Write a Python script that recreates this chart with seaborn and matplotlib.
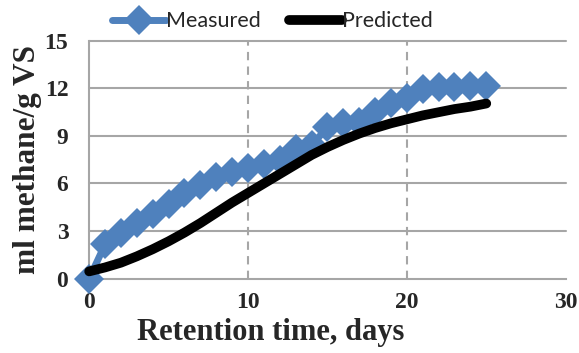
import matplotlib
matplotlib.use("Agg")
import matplotlib.pyplot as plt
import seaborn as sns
import pandas as pd

# Cumulative methane yield (ml methane / g VS) by retention day
days = list(range(0, 26))
measured = [0.0, 2.15, 2.85, 3.5, 4.1, 4.7, 5.4, 5.9, 6.4, 6.7, 7.0, 7.2, 7.5,
            8.15, 8.4, 9.55, 9.85, 9.9, 10.5, 11.1, 11.4, 11.95, 12.1, 12.1,
            12.15, 12.15]
predicted = [0.45, 0.7, 1.0, 1.4, 1.85, 2.35, 2.9, 3.5, 4.15, 4.8, 5.4, 6.0,
             6.6, 7.2, 7.8, 8.3, 8.75, 9.15, 9.5, 9.8, 10.05, 10.3, 10.5,
             10.7, 10.85, 11.05]

x_ticks = [0, 10, 20, 30]
y_ticks = [0, 3, 6, 9, 12, 15]

df = pd.DataFrame({"days": days, "Measured": measured, "Predicted": predicted})

sns.set_style("white")
fig = plt.figure(figsize=(5.79, 3.53), dpi=100)
ax = fig.add_axes([0.154, 0.211, 0.823, 0.673])

grid_col = "#A6A6A6"
for yv in y_ticks[1:]:
    ax.axhline(yv, color=grid_col, lw=1.5, zorder=0)
for xv in x_ticks[1:-1]:
    ax.axvline(xv, color=grid_col, lw=1.5, ls=(0, (4, 3)), zorder=0)

sns.lineplot(data=df, x="days", y="Measured", ax=ax, color="#4F81BD",
             lw=5, marker="D", markersize=15.5, markeredgewidth=0,
             label="Measured", zorder=3)
sns.lineplot(data=df, x="days", y="Predicted", ax=ax, color="black",
             lw=7, solid_capstyle="round", label="Predicted", zorder=4)

ax.set_xlim(0, 30)
ax.set_ylim(0, 15)
ax.set_xticks(x_ticks)
ax.set_yticks(y_ticks)

serif = {"family": "Liberation Serif", "weight": "bold"}
for lab in ax.get_xticklabels() + ax.get_yticklabels():
    lab.set_fontfamily("Liberation Serif")
    lab.set_fontweight("bold")
    lab.set_fontsize(17)
ax.tick_params(axis="both", length=0)
ax.tick_params(axis="y", pad=15)
ax.tick_params(axis="x", pad=10)

ax.set_xlabel("Retention time, days", fontdict=serif, fontsize=22)
ax.xaxis.set_label_coords(0.38, -0.168)
ax.set_ylabel("ml methane/g VS", fontdict=serif, fontsize=22.5)
ax.yaxis.set_label_coords(-0.10, 0.5)

for side in ["top", "right"]:
    ax.spines[side].set_visible(False)
for side in ["left", "bottom"]:
    ax.spines[side].set_color(grid_col)
    ax.spines[side].set_linewidth(1.5)

leg = ax.legend(loc="lower center", bbox_to_anchor=(0.385, 0.995), ncol=2,
                frameon=False, prop={"family": "Lato", "size": 15.5},
                handlelength=2.5, handletextpad=0.0, columnspacing=1.3,
                borderaxespad=0.1)
for line in ax.lines:
    line.set_clip_on(False)

fig.savefig("out.png", dpi=100)
